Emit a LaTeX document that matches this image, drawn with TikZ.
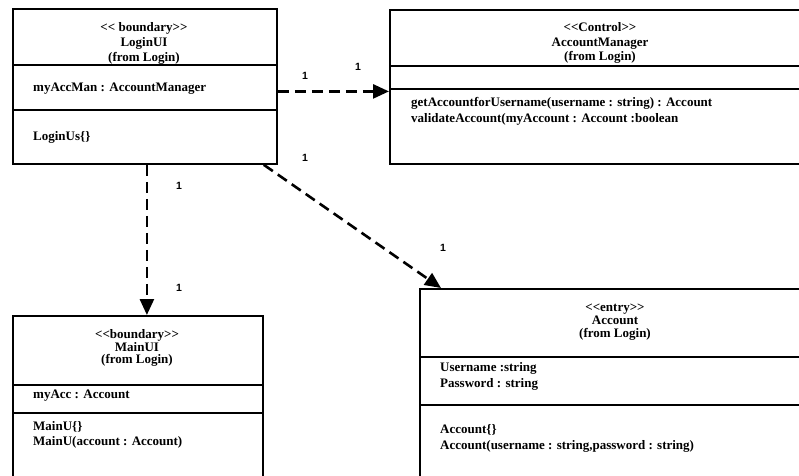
\documentclass[tikz,border=0pt]{standalone}
\usepackage{fontspec}
\setmainfont{Liberation Serif}
\newfontfamily\multfont{Liberation Sans}
\usetikzlibrary{arrows.meta}
\usetikzlibrary{positioning}

\begin{document}
\begin{tikzpicture}[x=1pt, y=-1pt,
  umlbox/.style={draw, line width=1.8pt, rectangle, anchor=north west, inner sep=0pt},
  divider/.style={line width=1.8pt},
  classhead/.style={align=center, font=\bfseries\fontsize{13}{#1}\selectfont},
  members/.style={align=left, anchor=west, inner sep=0pt, font=\bfseries\fontsize{13}{16}\selectfont},
  dep/.style={line width=2.6pt, dash pattern=on 11pt off 6pt, -{Triangle[length=16pt,width=14pt]}},
  mult/.style={font=\multfont\bfseries\fontsize{10.5}{11}\selectfont}]
    \useasboundingbox (0,0) rectangle (799,475);
    \clip (0,0) rectangle (799,475);

    % class boxes
    \node[umlbox, minimum width=264pt, minimum height=155pt] (loginui) at (12,8) {};
    \node[umlbox, minimum width=430pt, minimum height=154pt] (accman) at (389,9) {};
    \node[umlbox, minimum width=250pt, minimum height=200pt] (mainui) at (12,315) {};
    \node[umlbox, minimum width=400pt, minimum height=220pt] (account) at (419,288) {};

    % compartments
    \draw[divider] (12,65) -- (276,65) (12,110) -- (276,110);
    \draw[divider] (389,66) -- (799,66) (389,89) -- (799,89);
    \draw[divider] (12,385) -- (262,385) (12,413) -- (262,413);
    \draw[divider] (419,357) -- (799,357) (419,405) -- (799,405);

    % LoginUI
    \node[classhead=15] (loginuihead) at (144,43) {<{}< boundary>{}>\\LoginUI\\(from Login)};
    \node[members] (loginuiattr) at (33,89) {myAccMan : AccountManager};
    \node[members] (loginuiops) at (33,137) {LoginUs\{\}};

    % AccountManager
    \node[classhead=14.5] (accmanhead) at (600,43) {<{}<Control>{}>\\AccountManager\\(from Login)};
    \node[members] (accmanops) at (411,111) {getAccountforUsername(username : string) : Account\\validateAccount(myAccount : Account :boolean};

    % MainUI
    \node[classhead=12.5] (mainuihead) at (137,348) {<{}<boundary>{}>\\MainUI\\(from Login)};
    \node[members] (mainuiattr) at (33,396) {myAcc : Account};
    \node[members, font=\bfseries\fontsize{13}{15}\selectfont] (mainuiops) at (33,434.5) {MainU\{\}\\MainU(account : Account)};

    % Account
    \node[classhead=13] (accounthead) at (615,322) {<{}<entry>{}>\\Account\\(from Login)};
    \node[members] (accountattr) at (440,376) {Username :string\\Password : string};
    \node[members] (accountops) at (440,438) {Account\{\}\\Account(username : string,password : string)};

    % dependencies
    \draw[dep] ([yshift=-5pt]loginui.east) -- ([yshift=-5pt]loginui.east -| accman.west);
    \draw[dep] ([xshift=2pt]loginui.south) -- ([xshift=2pt]loginui.south |- mainui.north);
    \draw[dep] ([xshift=-14pt]loginui.south east) -- ([xshift=22pt]account.north west);

    % multiplicities
    \node[mult] (m1) at (305,76) {1};
    \node[mult] (m2) at (358,67) {1};
    \node[mult] (m3) at (179,186) {1};
    \node[mult] (m4) at (179,288) {1};
    \node[mult] (m5) at (305,158) {1};
    \node[mult] (m6) at (443,248) {1};
\end{tikzpicture}
\end{document}
